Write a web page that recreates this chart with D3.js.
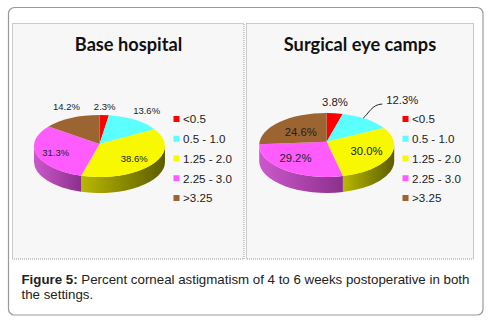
<!DOCTYPE html>
<html>
<head>
<meta charset="utf-8">
<script src="https://cdn.jsdelivr.net/npm/d3@7"></script>
<style>
html, body { margin: 0; padding: 0; background: #fff; }
svg { display: block; }
</style>
</head>
<body>
<svg id="chart" width="489" height="323"></svg>
<script>
const categories = ["<0.5", "0.5 - 1.0", "1.25 - 2.0", "2.25 - 3.0", ">3.25"];
const baseValues = [2.3, 13.6, 38.6, 31.3, 14.2];
const campValues = [3.8, 12.3, 30.0, 29.2, 24.6];
const colors = ["#ff0000", "#5cffff", "#f8f800", "#ff5cff", "#9c6430"];
// side wall colours, left end then right end of each slice
const sideColors = [["#a00000", "#800000"], ["#38a0a0", "#308080"], ["#b8b800", "#5c5c00"], ["#cc58cc", "#8c308c"], ["#70461e", "#5c3a18"]];

const svg = d3.select("#chart");
const defs = svg.append("defs");
const color = d3.scaleOrdinal().domain(categories).range(colors);
const pie = d3.pie().sort(null).value(function(d){return d});

// card
svg.append("rect")
    .attr("x", 8.5).attr("y", 7.5).attr("width", 474.5).attr("height", 307.5).attr("rx", 6)
    .style("fill", "#fff").style("stroke", "#999").style("stroke-width", 1.2);

function drawPanel(p) {
    const g = svg.append("g");

    g.append("rect")
        .attr("x", p.x).attr("y", 23.5).attr("width", p.w).attr("height", 235.5)
        .style("fill", "#f7f7f7").style("stroke", "#999").style("stroke-dasharray", "1,1");

    g.append("text").text(p.title)
        .attr("x", p.titleX).attr("y", 51).attr("text-anchor", "middle")
        .style("font-family", "Lato").style("font-weight", "bold").style("font-size", "18.2px").style("fill", "#111");

    const arcs = pie(p.values);
    const pt = function(a) { return [p.cx + p.rx * Math.sin(a), p.cy - p.ry * Math.cos(a)]; };

    // side wall, only the front half of the ellipse shows
    arcs.forEach(function(d, i) {
        const a0 = Math.max(d.startAngle, Math.PI / 2);
        const a1 = Math.min(d.endAngle, Math.PI * 1.5);
        if (a1 <= a0) return;
        const s = pt(a0), e = pt(a1);
        const id = "side" + p.id + i;
        const grad = defs.append("linearGradient").attr("id", id)
            .attr("gradientUnits", "userSpaceOnUse")
            .attr("x1", Math.min(s[0], e[0])).attr("x2", Math.max(s[0], e[0]))
            .attr("y1", 0).attr("y2", 0);
        grad.append("stop").attr("offset", 0).attr("stop-color", sideColors[i][0]);
        grad.append("stop").attr("offset", 1).attr("stop-color", sideColors[i][1]);
        g.append("path")
            .attr("d", "M" + s + "A" + p.rx + "," + p.ry + " 0 0 1 " + e
                + "L" + [e[0], e[1] + p.depth]
                + "A" + p.rx + "," + p.ry + " 0 0 0 " + [s[0], s[1] + p.depth] + "Z")
            .style("fill", "url(#" + id + ")");
    });

    // top face
    arcs.forEach(function(d, i) {
        const s = pt(d.startAngle), e = pt(d.endAngle);
        const large = d.endAngle - d.startAngle > Math.PI ? 1 : 0;
        g.append("path")
            .attr("d", "M" + [p.cx, p.apexY] + "L" + s + "A" + p.rx + "," + p.ry + " 0 " + large + " 1 " + e + "Z")
            .style("fill", color(categories[i]));
    });

    // value labels, placed from each slice's mid angle
    arcs.forEach(function(d, i) {
        const mid = (d.startAngle + d.endAngle) / 2;
        g.append("text").text(p.values[i].toFixed(1) + "%")
            .attr("x", p.cx + p.labelF[i][0] * p.rx * Math.sin(mid))
            .attr("y", p.cy - p.labelF[i][1] * p.ry * Math.cos(mid) + p.labelSize * 0.36)
            .attr("text-anchor", "middle")
            .style("font-family", "Liberation Sans").style("font-size", p.labelSize + "px").style("fill", "#222");
    });

    if (p.leader) {
        const a = pt((arcs[1].startAngle + arcs[1].endAngle) / 2);
        g.append("path")
            .attr("d", "M" + [a[0] - 3, a[1] - 1] + "C" + [a[0] + 2, a[1] - 5] + " " + [a[0] + 6, a[1] - 15] + " " + [a[0] + 16, a[1] - 15])
            .style("fill", "none").style("stroke", "#111").style("stroke-width", 0.9);
    }

    // legend
    const row = d3.scalePoint().domain(categories).range([119, 198]);
    categories.forEach(function(c) {
        g.append("rect")
            .attr("x", p.legendX).attr("y", row(c) - 3).attr("width", 6).attr("height", 6)
            .style("fill", color(c));
        g.append("text").text(c)
            .attr("x", p.legendX + 9.5).attr("y", row(c) + 4.3)
            .style("font-family", "Liberation Sans").style("font-size", "11.6px").style("fill", "#222");
    });
}

drawPanel({
    id: "a", title: "Base hospital", values: baseValues,
    x: 12.5, w: 231.5, titleX: 128.5,
    cx: 99.5, cy: 146, apexY: 144, rx: 65.5, ry: 31, depth: 16,
    legendX: 173.5, labelSize: 9.5,
    labelF: [[1.1, 1.28], [1.33, 1.34], [0.66, 0.7], [0.7, 0.75], [1.17, 1.4]]
});
drawPanel({
    id: "b", title: "Surgical eye camps", values: campValues,
    x: 246.5, w: 227, titleX: 360,
    cx: 326.7, cy: 145, apexY: 141.7, rx: 67.5, ry: 32, depth: 16,
    legendX: 402.5, labelSize: 11.3, leader: true,
    labelF: [[1.03, 1.34], [1.91, 1.73], [0.637, 0.51], [0.74, 0.52], [0.55, 0.57]]
});

// caption
const cap = svg.append("text")
    .attr("x", 21.5).attr("y", 284)
    .style("font-family", "Liberation Sans").style("font-size", "13.3px").style("fill", "#222");
cap.append("tspan").text("Figure 5:").style("font-weight", "bold");
cap.append("tspan").text(" Percent corneal astigmatism of 4 to 6 weeks postoperative in both");
svg.append("text").text("the settings.")
    .attr("x", 21.5).attr("y", 298.5)
    .style("font-family", "Liberation Sans").style("font-size", "13.3px").style("fill", "#222");
</script>
</body>
</html>
